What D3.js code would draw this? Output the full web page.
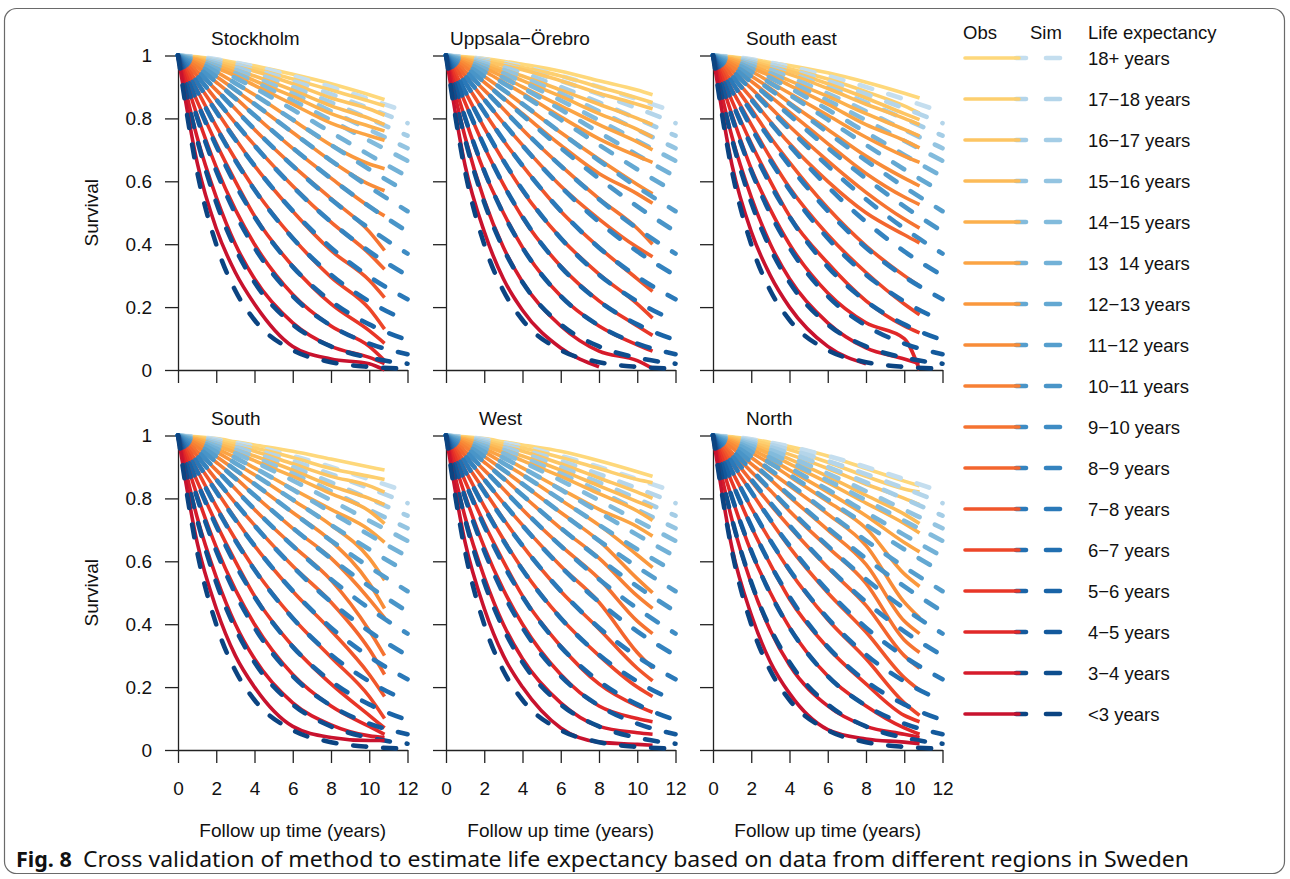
<!DOCTYPE html>
<html><head><meta charset="utf-8">
<script src="https://cdn.jsdelivr.net/npm/d3@7"></script>
<style>
body{margin:0;background:#fff;}
svg text{fill:#111;}
</style>
</head><body>
<svg id="chart" width="1290" height="879"></svg>
<script>
// ---------------- DATA ----------------
const regions = ["Stockholm", "Uppsala\u2212Örebro", "South east", "South", "West", "North"];
// groups ordered from shortest to longest life expectancy
const groupLabels = ["<3 years", "3\u22124 years", "4\u22125 years", "5\u22126 years", "6\u22127 years",
  "7\u22128 years", "8\u22129 years", "9\u221210 years", "10\u221211 years", "11\u221212 years",
  "12\u221213 years", "13  14 years", "14\u221215 years", "15\u221216 years", "16\u221217 years",
  "17\u221218 years", "18+ years"];
const obsColors = ["#c8122e", "#d61b2b", "#e12828", "#e83627", "#ed4629", "#f0562b", "#f3652e",
  "#f57331", "#f78034", "#f88c38", "#fa983d", "#fba444", "#fcb04d", "#fcbb58", "#fdc563", "#fdcf6f", "#fed87b"];
const simColors = ["#0b4482", "#0e4e8e", "#13599c", "#1964a7", "#216fb1", "#2a79b9", "#3483bf",
  "#3e8cc4", "#4995c8", "#559ecd", "#63a8d2", "#72b1d7", "#82bbdc", "#93c4e1", "#a4cde6", "#b4d5ea", "#c4deef"];

const xTicks = [0, 2, 4, 6, 8, 10, 12];
const yTicks = [0, 0.2, 0.4, 0.6, 0.8, 1];
const yTickLabels = ["0", "0.2", "0.4", "0.6", "0.8", "1"];

// simulated survival (shared by all regions), at simTimes
const simTimes = [0, 1, 2, 3, 4, 6, 8, 10, 12];
const sim = [
  [1, .631, .399, .252, .159, .063, .025, .010, .004],
  [1, .733, .533, .386, .279, .145, .075, .039, .020],
  [1, .802, .633, .497, .389, .235, .141, .084, .050],
  [1, .851, .712, .590, .487, .328, .219, .145, .095],
  [1, .886, .771, .666, .573, .419, .303, .218, .155],
  [1, .914, .821, .732, .650, .506, .389, .297, .225],
  [1, .935, .860, .786, .714, .583, .471, .377, .300],
  [1, .951, .891, .828, .766, .649, .543, .450, .370],
  [1, .963, .915, .863, .810, .706, .609, .520, .440],
  [1, .972, .933, .891, .846, .755, .666, .582, .505],
  [1, .979, .948, .912, .875, .796, .716, .638, .565],
  [1, .984, .958, .929, .897, .828, .756, .684, .615],
  [1, .987, .967, .943, .916, .857, .794, .729, .665],
  [1, .990, .974, .954, .931, .879, .823, .764, .705],
  [1, .993, .979, .963, .944, .900, .851, .799, .745],
  [1, .994, .984, .971, .955, .919, .877, .832, .785],
  [1, .996, .988, .977, .965, .935, .900, .861, .820]
];

// observed survival per region, at obsTimes (null = follow-up ended)
const obsTimes = [0, 1, 2, 3, 4, 6, 8, 10, 10.8];
const obsStockholm = [
  [1, .66, .45, .31, .21, .075, .035, .02, 0],
  [1, .74, .55, .40, .29, .15, .075, .04, .02],
  [1, .81, .645, .51, .40, .24, .14, .075, .03],
  [1, .855, .72, .60, .49, .33, .21, .125, .085],
  [1, .89, .775, .67, .575, .42, .295, .195, .13],
  [1, .915, .825, .735, .65, .505, .38, .285, .23],
  [1, .935, .86, .785, .715, .585, .47, .37, .32],
  [1, .95, .89, .83, .765, .65, .545, .44, .38],
  [1, .963, .915, .865, .81, .705, .61, .52, .49],
  [1, .972, .933, .89, .845, .755, .665, .59, .57],
  [1, .978, .948, .912, .875, .795, .715, .655, .64],
  [1, .985, .96, .935, .905, .845, .785, .745, .73],
  [1, .988, .968, .945, .92, .87, .815, .775, .76],
  [1, .99, .975, .955, .935, .89, .84, .80, .78],
  [1, .993, .98, .965, .95, .91, .865, .83, .81],
  [1, .994, .985, .972, .958, .925, .89, .855, .84],
  [1, .996, .988, .978, .967, .94, .91, .875, .86]
];
const obsUppsala = [
  [1, .65, .44, .29, .19, .07, .01, null, null],
  [1, .74, .54, .39, .28, .14, .06, .03, .005],
  [1, .80, .63, .50, .39, .235, .14, .08, .06],
  [1, .85, .71, .59, .485, .33, .22, .14, .11],
  [1, .885, .77, .665, .57, .42, .305, .21, .165],
  [1, .915, .82, .73, .65, .505, .39, .29, .25],
  [1, .935, .86, .785, .715, .585, .48, .39, .36],
  [1, .95, .89, .83, .765, .65, .545, .45, .40],
  [1, .963, .915, .865, .815, .715, .625, .56, .53],
  [1, .972, .933, .89, .845, .755, .67, .59, .56],
  [1, .978, .95, .915, .88, .805, .735, .68, .66],
  [1, .984, .96, .932, .90, .84, .78, .725, .70],
  [1, .988, .968, .945, .92, .87, .815, .765, .74],
  [1, .99, .975, .955, .935, .89, .845, .80, .78],
  [1, .993, .982, .968, .955, .92, .88, .845, .83],
  [1, .994, .986, .975, .962, .935, .90, .865, .85],
  [1, .996, .99, .982, .972, .95, .92, .89, .875]
];
const obsSouthEast = [
  [1, .65, .44, .30, .20, .075, .02, null, null],
  [1, .74, .55, .40, .29, .15, .07, .035, .02],
  [1, .81, .64, .51, .40, .245, .15, .10, 0],
  [1, .855, .72, .60, .49, .34, .22, .14, .118],
  [1, .89, .78, .675, .58, .43, .31, .21, .176],
  [1, .915, .83, .74, .66, .515, .395, .30, .267],
  [1, .935, .865, .79, .72, .60, .50, .43, .404],
  [1, .95, .895, .835, .775, .665, .565, .48, .451],
  [1, .963, .918, .87, .82, .72, .625, .55, .526],
  [1, .972, .935, .895, .85, .765, .68, .61, .585],
  [1, .978, .95, .915, .88, .81, .74, .68, .66],
  [1, .984, .96, .935, .905, .845, .78, .73, .706],
  [1, .988, .968, .945, .92, .87, .815, .765, .744],
  [1, .99, .975, .958, .94, .895, .845, .80, .78],
  [1, .993, .98, .965, .95, .91, .865, .815, .796],
  [1, .994, .985, .972, .958, .925, .885, .84, .817],
  [1, .996, .988, .978, .968, .945, .915, .88, .865]
];
const obsSouth = [
  [1, .66, .45, .30, .20, .075, .04, .03, .03],
  [1, .74, .55, .40, .29, .15, .08, .045, .04],
  [1, .81, .645, .51, .40, .24, .14, .075, .05],
  [1, .855, .72, .60, .49, .33, .21, .11, .07],
  [1, .89, .775, .67, .575, .42, .295, .17, .10],
  [1, .915, .825, .735, .65, .505, .38, .24, .17],
  [1, .935, .86, .785, .715, .585, .47, .32, .24],
  [1, .95, .89, .83, .765, .65, .54, .38, .30],
  [1, .963, .915, .865, .81, .705, .61, .48, .42],
  [1, .972, .933, .89, .845, .755, .665, .53, .45],
  [1, .978, .948, .912, .875, .795, .715, .61, .54],
  [1, .984, .958, .93, .897, .83, .765, .70, .66],
  [1, .988, .968, .945, .92, .87, .815, .76, .72],
  [1, .99, .975, .955, .935, .89, .84, .80, .78],
  [1, .993, .98, .965, .95, .91, .87, .84, .82],
  [1, .994, .985, .972, .96, .93, .895, .87, .86],
  [1, .996, .99, .98, .97, .95, .925, .90, .89]
];
const obsWest = [
  [1, .66, .45, .30, .20, .07, .025, .018, .015],
  [1, .74, .55, .40, .29, .15, .075, .055, .05],
  [1, .81, .645, .51, .40, .24, .14, .10, .09],
  [1, .855, .72, .60, .49, .33, .21, .14, .12],
  [1, .89, .775, .67, .575, .42, .30, .20, .17],
  [1, .915, .825, .735, .65, .505, .385, .26, .22],
  [1, .935, .86, .785, .715, .585, .47, .31, .26],
  [1, .95, .89, .83, .765, .65, .545, .41, .37],
  [1, .963, .915, .865, .81, .705, .61, .49, .45],
  [1, .972, .933, .89, .845, .755, .665, .545, .50],
  [1, .978, .948, .912, .875, .795, .715, .62, .58],
  [1, .984, .958, .93, .897, .83, .765, .71, .68],
  [1, .988, .968, .945, .92, .87, .815, .76, .73],
  [1, .99, .975, .955, .935, .89, .84, .79, .77],
  [1, .993, .98, .965, .95, .91, .865, .82, .80],
  [1, .994, .985, .972, .96, .93, .895, .86, .85],
  [1, .996, .99, .98, .97, .95, .92, .885, .87]
];
const obsNorth = [
  [1, .64, .43, .28, .18, .065, .035, .025, .02],
  [1, .73, .53, .38, .27, .14, .075, .05, .04],
  [1, .80, .63, .50, .39, .235, .14, .07, .05],
  [1, .85, .71, .59, .48, .325, .21, .11, .09],
  [1, .885, .77, .665, .57, .415, .29, .15, .11],
  [1, .91, .82, .73, .645, .50, .375, .23, .19],
  [1, .93, .855, .78, .71, .58, .46, .30, .26],
  [1, .945, .885, .825, .76, .645, .53, .35, .31],
  [1, .96, .91, .86, .805, .70, .59, .41, .37],
  [1, .97, .93, .885, .84, .75, .65, .47, .42],
  [1, .977, .945, .91, .87, .79, .705, .56, .52],
  [1, .982, .956, .925, .89, .82, .745, .66, .63],
  [1, .986, .965, .94, .91, .85, .785, .72, .69],
  [1, .99, .972, .95, .925, .87, .81, .75, .72],
  [1, .992, .978, .96, .94, .895, .845, .80, .78],
  [1, .994, .984, .97, .955, .915, .87, .83, .82],
  [1, .996, .988, .978, .965, .935, .895, .855, .84]
];
const obsByRegion = [obsStockholm, obsUppsala, obsSouthEast, obsSouth, obsWest, obsNorth];

const captionBold = "Fig. 8";
const captionText = "Cross validation of method to estimate life expectancy based on data from different regions in Sweden";

// ---------------- LAYOUT ----------------
const FONT = "Liberation Sans, Arial, sans-serif";
const svg = d3.select("#chart");
svg.append("rect").attr("x", 4.5).attr("y", 8.5).attr("width", 1280).attr("height", 865)
  .attr("rx", 12).attr("fill", "none").attr("stroke", "#6a6a6a").attr("stroke-width", 1.2);

const panelLefts = [178, 446, 713];
const panelBottoms = [370, 750];
const pw = 229.5, ph = 314.5;
const titleOffsets = [33, 4, 33, 33, 33, 33];

const simLine = d3.line().curve(d3.curveMonotoneX);
const obsLine = d3.line().curve(d3.curveMonotoneX);

regions.forEach((name, ri) => {
  const col = ri % 3, row = Math.floor(ri / 3);
  const x0 = panelLefts[col], y0 = panelBottoms[row];
  const x = d3.scaleLinear().domain([0, 12]).range([x0, x0 + pw]);
  const y = d3.scaleLinear().domain([0, 1]).range([y0, y0 - ph]);
  const g = svg.append("g");

  // axes
  const ya = d3.axisLeft(y).tickValues(yTicks).tickSize(13).tickSizeOuter(0).tickPadding(13)
    .tickFormat((d, i) => col === 0 ? yTickLabels[i] : "");
  const gy = g.append("g").attr("transform", `translate(${x0},0)`).call(ya);
  const xa = d3.axisBottom(x).tickValues(xTicks).tickSize(13).tickSizeOuter(0).tickPadding(19)
    .tickFormat(d => row === 1 ? String(d) : "");
  const gx = g.append("g").attr("transform", `translate(0,${y0})`).call(xa);
  [gx, gy].forEach(a => {
    a.selectAll("path,line").attr("stroke", "#222").attr("stroke-width", 1.3);
    a.selectAll("text").attr("font-size", 19).attr("font-family", FONT).attr("fill", "#111");
  });

  // curves: from longest to shortest life expectancy, obs then sim
  const obs = obsByRegion[ri];
  for (let gi = 16; gi >= 0; gi--) {
    const op = [];
    obsTimes.forEach((t, k) => { const v = obs[gi][k]; if (v !== null) op.push([x(t), y(v)]); });
    g.append("path").attr("d", obsLine(op)).attr("fill", "none")
      .attr("stroke", obsColors[gi]).attr("stroke-width", 3.6).attr("stroke-linejoin", "round");
    const sp = simTimes.map((t, k) => [x(t), y(sim[gi][k])]);
    g.append("path").attr("d", simLine(sp)).attr("fill", "none")
      .attr("stroke", simColors[gi]).attr("stroke-width", 4.6).attr("stroke-linecap", "round")
      .attr("stroke-dasharray", "13,17");
  }

  // title
  g.append("text").attr("x", x0 + titleOffsets[ri]).attr("y", y0 - ph - 11)
    .attr("font-family", FONT).attr("font-size", 19).text(name);
  // y label
  if (col === 0) {
    g.append("text").attr("transform", `translate(98,${y0 - ph / 2}) rotate(-90)`)
      .attr("text-anchor", "middle").attr("font-family", FONT).attr("font-size", 19).text("Survival");
  }
  if (row === 1) {
    g.append("text").attr("x", x0 + pw / 2).attr("y", 837).attr("text-anchor", "middle")
      .attr("font-family", FONT).attr("font-size", 19).text("Follow up time (years)");
  }
});

// ---------------- LEGEND ----------------
const lg = svg.append("g").attr("font-family", FONT);
lg.append("text").attr("x", 963).attr("y", 39).attr("font-size", 18.5).text("Obs");
lg.append("text").attr("x", 1030).attr("y", 39).attr("font-size", 18.5).text("Sim");
lg.append("text").attr("x", 1088).attr("y", 39).attr("font-size", 18.5).text("Life expectancy");
const legendOrder = d3.range(16, -1, -1);
const ly = d3.scalePoint().domain(legendOrder).range([58, 714]);
legendOrder.forEach(gi => {
  const yy = ly(gi);
  lg.append("line").attr("x1", 1016).attr("x2", 1026).attr("y1", yy).attr("y2", yy)
    .attr("stroke", simColors[gi]).attr("stroke-width", 4.6).attr("stroke-linecap", "round");
  lg.append("line").attr("x1", 965).attr("x2", 1019).attr("y1", yy).attr("y2", yy)
    .attr("stroke", obsColors[gi]).attr("stroke-width", 3.6).attr("stroke-linecap", "round");
  lg.append("line").attr("x1", 1046).attr("x2", 1060).attr("y1", yy).attr("y2", yy)
    .attr("stroke", simColors[gi]).attr("stroke-width", 4.6).attr("stroke-linecap", "round");
  lg.append("text").attr("x", 1088).attr("y", yy + 6.5).attr("font-size", 18.5)
    .attr("xml:space", "preserve").style("white-space", "pre").text(groupLabels[gi]);
});

// ---------------- CAPTION ----------------
svg.append("text").attr("x", 16).attr("y", 867).attr("font-size", 21.5).attr("font-weight", "bold")
  .attr("font-family", "Noto Sans, Open Sans, sans-serif")
  .text(captionBold);
svg.append("text").attr("x", 83).attr("y", 867).attr("font-size", 21.5)
  .attr("font-family", "Noto Sans, Open Sans, sans-serif").attr("textLength", 1106).attr("lengthAdjust", "spacingAndGlyphs")
  .text(captionText);
</script>
</body></html>
